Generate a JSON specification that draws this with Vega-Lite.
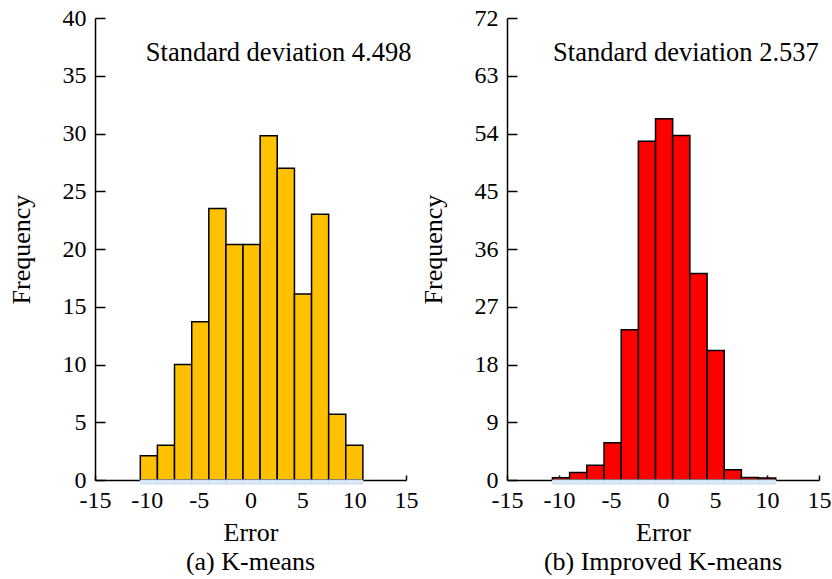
{
  "$schema": "https://vega.github.io/schema/vega-lite/v6.json",
  "background": "white",
  "padding": {"left": 8, "top": 6, "right": 0, "bottom": 0},
  "spacing": 2,
  "config": {
    "font": "Liberation Serif",
    "view": {"stroke": null},
    "axis": {
      "grid": false,
      "domainColor": "black",
      "domainWidth": 1.5,
      "tickColor": "black",
      "tickWidth": 1.5,
      "labelColor": "black",
      "labelFont": "Liberation Serif",
      "labelFontSize": 24,
      "labelOverlap": false,
      "labelFlush": false,
      "titleColor": "black",
      "titleFont": "Liberation Serif",
      "titleFontSize": 26,
      "titleFontWeight": "normal"
    },
    "title": {"font": "Liberation Serif", "fontSize": 26, "fontWeight": "normal", "color": "black"}
  },
  "datasets": {
    "kmeans": [
      {"bin_start": -10.63, "bin_end": -8.98, "frequency": 2.1},
      {"bin_start": -8.98, "bin_end": -7.33, "frequency": 3.0},
      {"bin_start": -7.33, "bin_end": -5.67, "frequency": 10.0},
      {"bin_start": -5.67, "bin_end": -4.02, "frequency": 13.7},
      {"bin_start": -4.02, "bin_end": -2.37, "frequency": 23.5},
      {"bin_start": -2.37, "bin_end": -0.72, "frequency": 20.4},
      {"bin_start": -0.72, "bin_end": 0.93, "frequency": 20.4},
      {"bin_start": 0.93, "bin_end": 2.58, "frequency": 29.8},
      {"bin_start": 2.58, "bin_end": 4.24, "frequency": 27.0},
      {"bin_start": 4.24, "bin_end": 5.89, "frequency": 16.1},
      {"bin_start": 5.89, "bin_end": 7.54, "frequency": 23.0},
      {"bin_start": 7.54, "bin_end": 9.19, "frequency": 5.7},
      {"bin_start": 9.19, "bin_end": 10.84, "frequency": 3.0}
    ],
    "improved": [
      {"bin_start": -10.63, "bin_end": -8.98, "frequency": 0.35},
      {"bin_start": -8.98, "bin_end": -7.33, "frequency": 1.15},
      {"bin_start": -7.33, "bin_end": -5.67, "frequency": 2.3},
      {"bin_start": -5.67, "bin_end": -4.02, "frequency": 5.8},
      {"bin_start": -4.02, "bin_end": -2.37, "frequency": 23.4},
      {"bin_start": -2.37, "bin_end": -0.72, "frequency": 52.8},
      {"bin_start": -0.72, "bin_end": 0.93, "frequency": 56.3},
      {"bin_start": 0.93, "bin_end": 2.58, "frequency": 53.7},
      {"bin_start": 2.58, "bin_end": 4.24, "frequency": 32.2},
      {"bin_start": 4.24, "bin_end": 5.89, "frequency": 20.2},
      {"bin_start": 5.89, "bin_end": 7.54, "frequency": 1.6},
      {"bin_start": 7.54, "bin_end": 9.19, "frequency": 0.4},
      {"bin_start": 9.19, "bin_end": 10.84, "frequency": 0.3}
    ]
  },
  "hconcat": [
    {
      "width": 311,
      "height": 462,
      "title": {"text": "(a) K-means", "orient": "bottom", "offset": 4},
      "layer": [
        {
          "data": {"name": "kmeans"},
          "mark": {"type": "rect", "fill": "#FFC000", "stroke": "black", "strokeWidth": 1.5},
          "encoding": {
            "x": {"field": "bin_start", "type": "quantitative", "scale": {"domain": [-15, 15], "nice": false, "zero": false},
                  "axis": {"values": [-15, -10, -5, 0, 5, 10, 15], "labelExpr": "'' + datum.value", "labelFont": "Liberation Serif", "title": "Error", "tickSize": -5, "labelPadding": 13, "titlePadding": 7}},
            "x2": {"field": "bin_end"},
            "y": {"field": "frequency", "type": "quantitative", "scale": {"domain": [0, 40], "nice": false},
                  "axis": {"values": [0, 5, 10, 15, 20, 25, 30, 35, 40], "labelFont": "Liberation Serif", "title": "Frequency", "tickSize": -10, "labelPadding": 19, "titlePadding": 28}},
            "y2": {"datum": 0}
          }
        },
        {
          "data": {"name": "kmeans"},
          "mark": {"type": "rect", "fill": "#dde9f6", "stroke": "#c8dbef", "strokeWidth": 1},
          "encoding": {
            "x": {"field": "bin_start", "type": "quantitative"},
            "x2": {"field": "bin_end"},
            "y": {"datum": 0, "type": "quantitative"},
            "y2": {"datum": -0.35}
          }
        },
        {
          "data": {"values": [{"note": "Standard deviation 4.498"}]},
          "mark": {"type": "text", "align": "left", "baseline": "middle", "fontSize": 26.5, "color": "black", "font": "Liberation Serif"},
          "encoding": {
            "x": {"datum": -10.1, "type": "quantitative"},
            "y": {"datum": 37, "type": "quantitative"},
            "text": {"field": "note", "type": "nominal"}
          }
        }
      ]
    },
    {
      "width": 312,
      "height": 462,
      "title": {"text": "(b) Improved K-means", "orient": "bottom", "offset": 4},
      "layer": [
        {
          "data": {"name": "improved"},
          "mark": {"type": "rect", "fill": "#FF0000", "stroke": "black", "strokeWidth": 1.5},
          "encoding": {
            "x": {"field": "bin_start", "type": "quantitative", "scale": {"domain": [-15, 15], "nice": false, "zero": false},
                  "axis": {"values": [-15, -10, -5, 0, 5, 10, 15], "labelExpr": "'' + datum.value", "labelFont": "Liberation Serif", "title": "Error", "tickSize": -5, "labelPadding": 13, "titlePadding": 7}},
            "x2": {"field": "bin_end"},
            "y": {"field": "frequency", "type": "quantitative", "scale": {"domain": [0, 72], "nice": false},
                  "axis": {"values": [0, 9, 18, 27, 36, 45, 54, 63, 72], "labelFont": "Liberation Serif", "title": "Frequency", "tickSize": -10, "labelPadding": 19, "titlePadding": 28}},
            "y2": {"datum": 0}
          }
        },
        {
          "data": {"name": "improved"},
          "mark": {"type": "rect", "fill": "#dde9f6", "stroke": "#c8dbef", "strokeWidth": 1},
          "encoding": {
            "x": {"field": "bin_start", "type": "quantitative"},
            "x2": {"field": "bin_end"},
            "y": {"datum": 0, "type": "quantitative"},
            "y2": {"datum": -0.62}
          }
        },
        {
          "data": {"values": [{"note": "Standard deviation 2.537"}]},
          "mark": {"type": "text", "align": "left", "baseline": "middle", "fontSize": 26.5, "color": "black", "font": "Liberation Serif"},
          "encoding": {
            "x": {"datum": -10.57, "type": "quantitative"},
            "y": {"datum": 66.5, "type": "quantitative"},
            "text": {"field": "note", "type": "nominal"}
          }
        }
      ]
    }
  ]
}
